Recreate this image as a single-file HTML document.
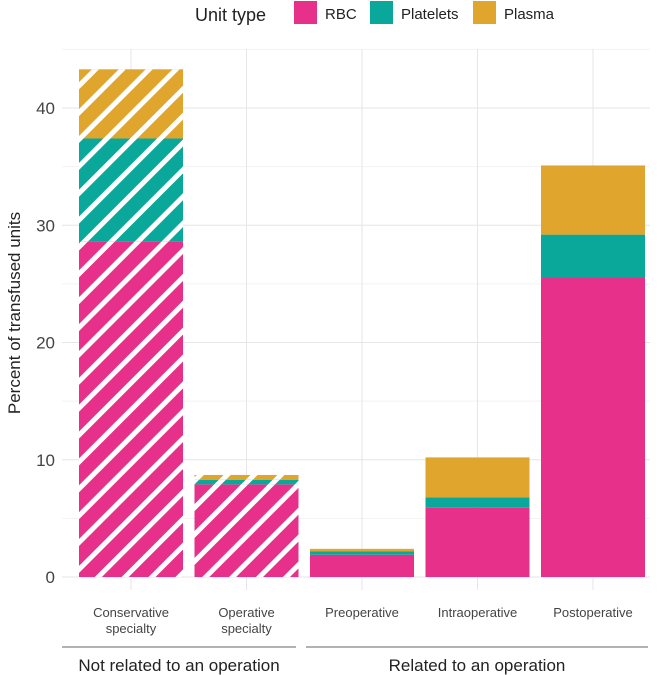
<!DOCTYPE html>
<html><head><meta charset="utf-8"><style>
body{margin:0;background:#fff;}
svg{display:block;font-family:"Liberation Sans",sans-serif;}
</style></head><body>
<svg id="chart" width="664" height="675" viewBox="0 0 664 675">
<defs>
<pattern id="stripes" patternUnits="userSpaceOnUse" width="19" height="19" patternTransform="rotate(45)">
<rect x="0" y="0" width="5" height="19" fill="#fff"/>
</pattern>
</defs>
<g id="grid"></g>
<g id="bars"></g>
<g id="axes"></g>
<g>
<text x="195" y="21" font-size="18" fill="#222">Unit type</text>
<rect x="294" y="1" width="23" height="23" fill="#E7308A"/>
<text x="325" y="19" font-size="15" fill="#222">RBC</text>
<rect x="370" y="1" width="23" height="23" fill="#0AA89A"/>
<text x="401" y="19" font-size="15" fill="#222">Platelets</text>
<rect x="473" y="1" width="23" height="23" fill="#E0A52C"/>
<text x="504" y="19" font-size="15" fill="#222">Plasma</text>
</g>
<text transform="translate(20,313) rotate(-90)" text-anchor="middle" font-size="17" fill="#222">Percent of transfused units</text>
<line x1="62" x2="296" y1="647" y2="647" stroke="#999" stroke-width="1.5"/>
<line x1="306" x2="648" y1="647" y2="647" stroke="#999" stroke-width="1.5"/>
<text x="179" y="671" text-anchor="middle" font-size="17" fill="#222">Not related to an operation</text>
<text x="477" y="671" text-anchor="middle" font-size="17" fill="#222">Related to an operation</text>
</svg>
<script>
const categories = [["Conservative","specialty"],["Operative","specialty"],["Preoperative"],["Intraoperative"],["Postoperative"]];
const rbc = [28.6, 7.9, 1.9, 5.9, 25.5];
const platelets = [8.8, 0.4, 0.3, 0.9, 3.7];
const plasma = [5.9, 0.4, 0.2, 3.4, 5.9];
const hatched = [true, true, false, false, false];
const yTicks = [0, 10, 20, 30, 40];

const NS = "http://www.w3.org/2000/svg";
const y0 = 577, pxPerUnit = 11.725;
const yScale = v => y0 - v * pxPerUnit;
const band = 115.5, firstCenter = 131, barW = 104;
const xScale = i => firstCenter + i * band;
function mk(tag, attrs, parent){const e=document.createElementNS(NS,tag);for(const k in attrs)e.setAttribute(k,attrs[k]);parent.appendChild(e);return e;}
const grid=document.getElementById('grid'), bars=document.getElementById('bars'), axes=document.getElementById('axes');
for(let v=5; v<=45; v+=10){const l=mk('line',{x1:62,x2:650,y1:yScale(v),y2:yScale(v),stroke:'#f2f2f2','stroke-width':1},grid);

}
yTicks.forEach(v=>{const l=mk('line',{x1:62,x2:650,y1:yScale(v),y2:yScale(v),stroke:'#e6e6e6','stroke-width':1},grid);


const t=mk('text',{x:55,y:yScale(v)+6,'text-anchor':'end','font-size':17,fill:'#444'},axes);t.textContent=v;

});
categories.forEach((c,i)=>{const l=mk('line',{x1:xScale(i),x2:xScale(i),y1:49,y2:590,stroke:'#e6e6e6','stroke-width':1},grid);


c.forEach((line,j)=>{const t=mk('text',{x:xScale(i),y:617+j*16,'text-anchor':'middle','font-size':13,fill:'#444'},axes);t.textContent=line;

});});
const series=[[rbc,'#E7308A','rbc'],[platelets,'#0AA89A','platelets'],[plasma,'#E0A52C','plasma']];
categories.forEach((c,i)=>{let base=0;
series.forEach(([arr,col,nm])=>{const top=base+arr[i];
const r=mk('rect',{x:xScale(i)-barW/2,y:yScale(top),width:barW,height:yScale(base)-yScale(top),fill:col},bars);


if(hatched[i]){const h=mk('rect',{x:xScale(i)-barW/2,y:yScale(top),width:barW,height:yScale(base)-yScale(top),fill:'url(#stripes)'},bars);

}
base=top;});});
</script>
</body></html>
